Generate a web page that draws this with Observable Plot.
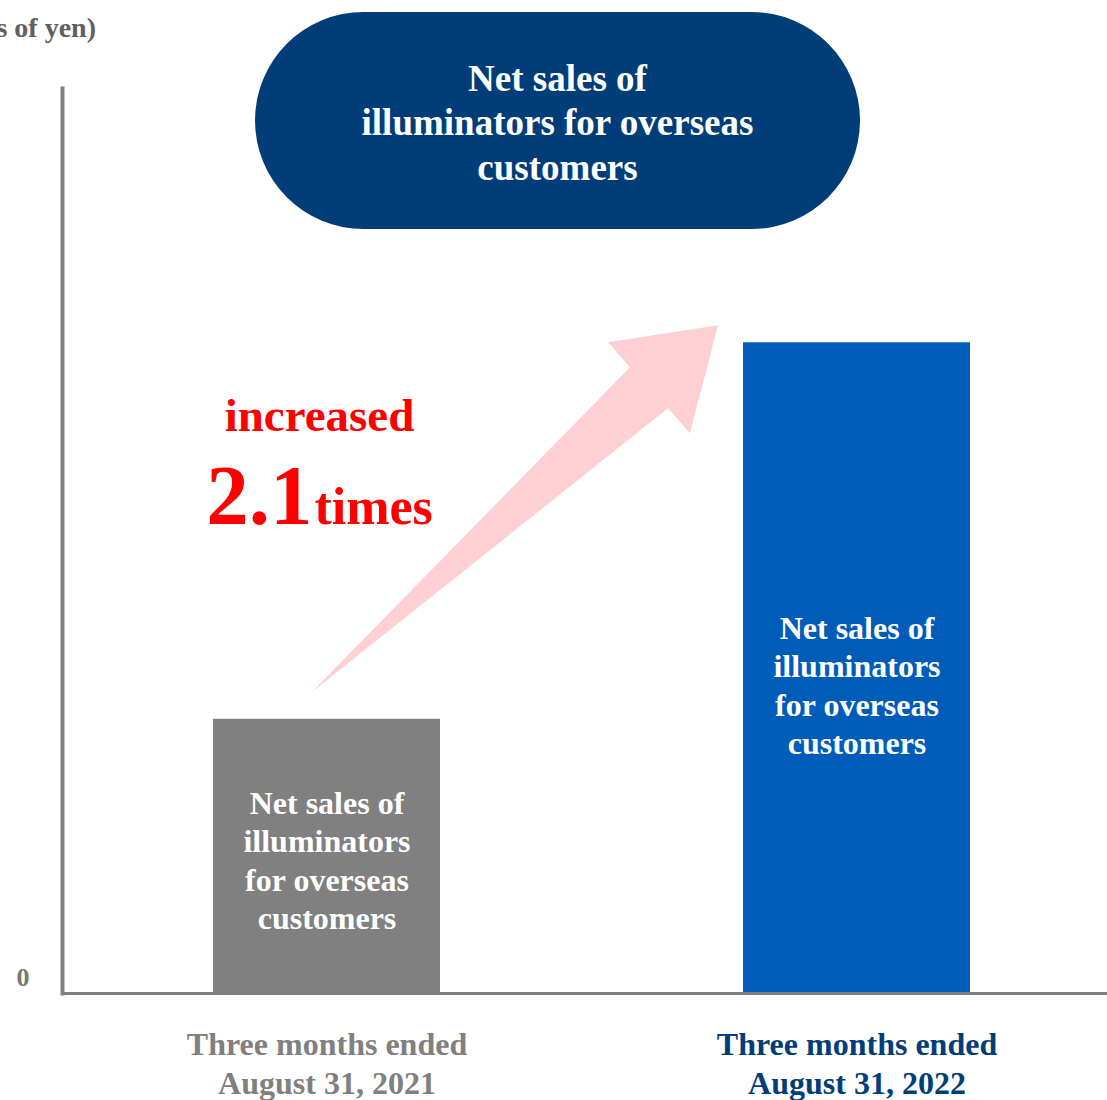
<!DOCTYPE html>
<html><head><meta charset="utf-8">
<script src="https://cdn.jsdelivr.net/npm/d3@7"></script>
<script src="https://cdn.jsdelivr.net/npm/@observablehq/plot@0.6"></script>
<style>body{margin:0;background:#fff} #chart{width:1107px;height:1100px}</style>
</head><body><div id="chart"></div>
<script>
// ---- data ----
const periods = ["Three months ended\nAugust 31, 2021", "Three months ended\nAugust 31, 2022"];
const values = [30.3, 71.9];
const barLabel = "Net sales of\nilluminators\nfor overseas\ncustomers";
const titleLines = ["Net sales of", "illuminators for overseas", "customers"];
const unitLabel = "(Hundreds of millions of yen)";
const growthWord = "increased";
const growthFactor = "2.1";
const growthUnit = "times";
const yTicks = [0];

// ---- styles ----
const barColors = ["#808080", "#005CB9"];
const labelColors = ["#808080", "#003D79"];
const font = "'Liberation Serif','Times New Roman',Times,serif";

const data = periods.map((p, i) => ({period: p, value: values[i]}));

const annotations = (index, scales, vals, dims) => {
  const x = scales.x, y = scales.y;
  const g = d3.create("svg:g").attr("font-family", font).attr("font-weight", "bold");
  const gx = x(periods[0]) + x.bandwidth() / 2;
  const gy = y(values[0]);
  const bx = x(periods[1]);
  const by = y(values[1]);
  // arrow
  const tail = [gx - 15.5, gy - 26];
  const tip = [bx - 25, by - 17];
  const pts = [tail,
    [tip[0] - 88, tip[1] + 42],
    [tip[0] - 110, tip[1] + 17],
    tip,
    [tip[0] - 28, tip[1] + 108],
    [tip[0] - 50, tip[1] + 83]];
  g.append("path").attr("d", "M" + pts.map(p => p.join(",")).join("L") + "Z").attr("fill", "#FFD0D3");
  // growth text
  const cx = gx - 7;
  g.append("text").attr("x", cx).attr("y", 431).attr("text-anchor", "middle")
    .attr("fill", "#FF0000").attr("font-size", 47).text(growthWord);
  const t2 = g.append("text").attr("x", cx).attr("y", 524).attr("text-anchor", "middle").attr("fill", "#FF0000");
  t2.append("tspan").attr("font-size", 85).text(growthFactor);
  t2.append("tspan").attr("font-size", 52).attr("dx", 2).text(growthUnit);
  // title pill
  g.append("rect").attr("x", 255).attr("y", 12).attr("width", 605).attr("height", 217)
    .attr("rx", 108.5).attr("fill", "#003D79");
  titleLines.forEach((t, i) => {
    g.append("text").attr("x", 557.5).attr("y", 78 + i * 44.5).attr("dy", "0.35em")
      .attr("text-anchor", "middle").attr("fill", "white").attr("font-size", 37).text(t);
  });
  // unit label (clipped at left edge, as in the reference)
  g.append("text").attr("x", 96).attr("y", 37).attr("text-anchor", "end")
    .attr("fill", "#606060").attr("font-size", 28).text(unitLabel);
  return g.node();
};

const chart = Plot.plot({
  width: 1107, height: 1100,
  marginLeft: 62, marginRight: 0, marginTop: 88, marginBottom: 107,
  style: {fontFamily: font, fontWeight: "bold", background: "white", overflow: "visible"},
  x: {domain: periods, range: [212, 970], paddingInner: 0.5725, paddingOuter: 0, axis: null},
  y: {domain: [0, 100], axis: null},
  color: {type: "identity"},
  marks: [
    Plot.barY(data, {x: "period", y: "value", fill: (d, i) => barColors[i]}),
    Plot.ruleY([0], {stroke: "#808080", strokeWidth: 3}),
    Plot.frame({anchor: "left", stroke: "#808080", strokeWidth: 4}),
    Plot.axisY(yTicks, {tickSize: 0, tickPadding: 33, dy: -16, fontSize: 26, fill: "#777777", label: null}),
    Plot.text(data.slice(0, 1), {x: "period", y: d => d.value / 2, text: () => barLabel,
      fill: "white", fontSize: 32, lineHeight: 1.2, dy: 3}),
    Plot.text(data.slice(1), {x: "period", y: d => d.value / 2, text: () => barLabel,
      fill: "white", fontSize: 32, lineHeight: 1.2, dy: 16}),
    Plot.text(data, {x: "period", frameAnchor: "bottom", text: "period",
      fill: (d, i) => labelColors[i], fontSize: 32, lineHeight: 1.19, dy: 100}),
    annotations
  ]
});
document.getElementById("chart").appendChild(chart);
</script>
</body></html>
